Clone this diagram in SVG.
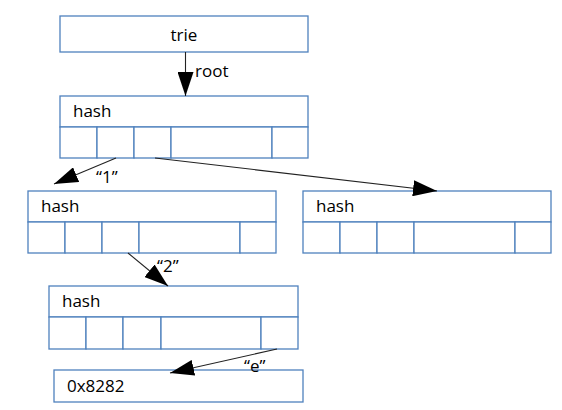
<svg xmlns="http://www.w3.org/2000/svg" width="562" height="410" viewBox="0 0 562 410">
<style>
.box{fill:#fff;stroke:#4f81bd;stroke-width:1.3}
.t{font-family:"Open Sans","Noto Sans",sans-serif;font-size:17px;fill:#000}
.c{stroke:#222;stroke-width:1.1;fill:none;marker-end:url(#ah)}
</style>
<defs>
<marker id="ah" markerUnits="userSpaceOnUse" viewBox="0 0 24 16" refX="24" refY="8" markerWidth="24" markerHeight="16" orient="auto">
<path d="M0,0 L24,8 L0,16 z" fill="#000"/>
</marker>
</defs>
<rect width="562" height="410" fill="#fff"/>
<g id="trie">
<rect class="box" x="60" y="16" width="248" height="36"/>
<text class="t" x="184" y="40.5" text-anchor="middle">trie</text>
</g>
<g id="hash-root">
<rect class="box" x="60" y="96" width="248" height="31"/>
<text class="t" x="73" y="117">hash</text>
<rect class="box" x="60" y="127" width="37" height="31"/>
<rect class="box" x="97" y="127" width="37" height="31"/>
<rect class="box" x="134" y="127" width="37" height="31"/>
<rect class="box" x="171" y="127" width="101" height="31"/>
<rect class="box" x="272" y="127" width="36" height="31"/>
</g>
<g id="hash-1">
<rect class="box" x="28" y="191" width="248" height="31"/>
<text class="t" x="41" y="212">hash</text>
<rect class="box" x="28" y="222" width="37" height="31"/>
<rect class="box" x="65" y="222" width="37" height="31"/>
<rect class="box" x="102" y="222" width="37" height="31"/>
<rect class="box" x="139" y="222" width="101" height="31"/>
<rect class="box" x="240" y="222" width="36" height="31"/>
</g>
<g id="hash-right">
<rect class="box" x="303" y="191" width="248" height="31"/>
<text class="t" x="316" y="212">hash</text>
<rect class="box" x="303" y="222" width="37" height="31"/>
<rect class="box" x="340" y="222" width="37" height="31"/>
<rect class="box" x="377" y="222" width="37" height="31"/>
<rect class="box" x="414" y="222" width="101" height="31"/>
<rect class="box" x="515" y="222" width="36" height="31"/>
</g>
<g id="hash-2">
<rect class="box" x="49" y="286" width="249" height="31"/>
<text class="t" x="62" y="307">hash</text>
<rect class="box" x="49" y="317" width="37" height="32"/>
<rect class="box" x="86" y="317" width="37" height="32"/>
<rect class="box" x="123" y="317" width="38" height="32"/>
<rect class="box" x="161" y="317" width="100" height="32"/>
<rect class="box" x="261" y="317" width="37" height="32"/>
</g>
<g id="value">
<rect class="box" x="54" y="370" width="249" height="32"/>
<text class="t" x="67" y="392">0x8282</text>
</g>
<g id="connectors">
<line class="c" x1="185.5" y1="52" x2="185.5" y2="96"/>
<text class="t" x="195" y="76.5">root</text>
<line class="c" x1="116" y1="158" x2="54" y2="184"/>
<text class="t" x="96" y="183">“1”</text>
<line class="c" x1="155" y1="158" x2="437" y2="191"/>
<line class="c" x1="128" y1="253" x2="168" y2="286"/>
<text class="t" x="157" y="272">“2”</text>
<line class="c" x1="277" y1="349" x2="170" y2="373"/>
<text class="t" x="244" y="372">“e”</text>
</g>
</svg>
